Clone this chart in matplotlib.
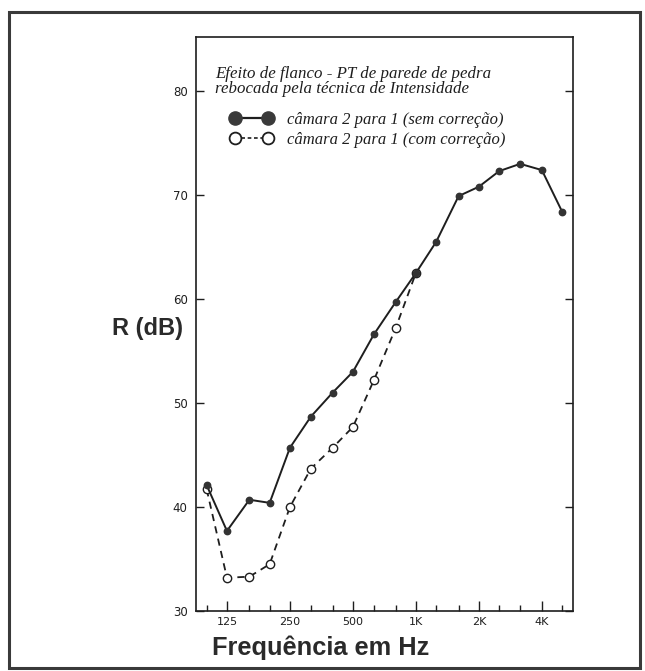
import matplotlib.pyplot as plt
from matplotlib.lines import Line2D
from matplotlib.patches import Rectangle
from matplotlib.ticker import FixedLocator, NullFormatter, NullLocator

# third-octave band centres (Hz)
freqs = [100, 125, 160, 200, 250, 315, 400, 500, 630, 800, 1000,
         1250, 1600, 2000, 2500, 3150, 4000, 5000]
# R (dB) without correction, all bands
r_sem = [42.1, 37.7, 40.7, 40.4, 45.7, 48.7, 51.0, 53.0, 56.6, 59.7, 62.5,
         65.5, 69.9, 70.8, 72.3, 73.0, 72.4, 68.4]
# R (dB) with correction, 100 Hz .. 1 kHz
freqs_com = [100, 125, 160, 200, 250, 315, 400, 500, 630, 800, 1000]
r_com = [41.7, 33.2, 33.3, 34.5, 40.0, 43.7, 45.7, 47.7, 52.2, 57.2, 62.5]

major_ticks = [125, 250, 500, 1000, 2000, 4000]
major_labels = ['125', '250', '500', '1K', '2K', '4K']
minor_ticks = [100, 160, 200, 315, 400, 630, 800, 1250, 1600, 2500, 3150, 5000]
y_ticks = [30, 40, 50, 60, 70, 80]

ink = '#1e1e1e'

fig = plt.figure(figsize=(6.45, 6.71), dpi=100)
ax = fig.add_axes([0.304, 0.0894, 0.584, 0.8555])

ax.plot(freqs_com, r_com, color=ink, lw=1.3, ls=(0, (4, 3)),
        marker='o', ms=6, mfc='white', mec=ink, mew=1.0, zorder=3)
ax.plot(freqs, r_sem, color=ink, lw=1.4, marker='o', ms=4.6,
        mfc='#333333', mec='#333333', zorder=4)

ax.set_xscale('log')
ax.set_xlim(89, 5620)
ax.set_ylim(30, 85.2)

ax.xaxis.set_major_locator(FixedLocator(major_ticks))
ax.xaxis.set_minor_locator(FixedLocator(minor_ticks))
ax.xaxis.set_minor_formatter(NullFormatter())
ax.set_xticklabels(major_labels, fontsize=8, family='Liberation Sans Narrow')
ax.set_yticks(y_ticks)
ax.set_yticklabels([str(v) for v in y_ticks], fontsize=8.5,
                   family='Liberation Sans Narrow')
ax.yaxis.set_minor_locator(NullLocator())
ax.tick_params(axis='x', which='major', direction='in', length=7, width=1,
               pad=4, colors=ink)
ax.tick_params(axis='x', which='minor', direction='in', length=4, width=1,
               colors=ink)
ax.tick_params(axis='y', which='major', direction='in', length=6, width=1,
               left=True, right=True, pad=6, colors=ink)
for side in ['left', 'right', 'bottom', 'top']:
    ax.spines[side].set_color(ink)
    ax.spines[side].set_linewidth(1.2)

ax.text(0.050, 0.950,
        'Efeito de flanco - PT de parede de pedra\n'
        'rebocada pela técnica de Intensidade',
        transform=ax.transAxes, ha='left', va='top', fontsize=12.2,
        style='italic', family='Liberation Serif', linespacing=0.98,
        color=ink)

handles = [
    Line2D([], [], color=ink, lw=1.6, marker='o', ms=9.5,
           mfc='#3a3a3a', mec='#3a3a3a'),
    Line2D([], [], color=ink, lw=1.2, ls=(0, (2.2, 1.6)), marker='o', ms=8.5,
           mfc='white', mec=ink, mew=1.3),
]
labels = ['câmara 2 para 1 (sem correção)', 'câmara 2 para 1 (com correção)']
leg = ax.legend(handles, labels, loc='upper left',
                bbox_to_anchor=(0.090, 0.870), frameon=False, numpoints=2,
                borderaxespad=0, borderpad=0,
                handlelength=2.6, handletextpad=0.85, labelspacing=0.28,
                prop={'family': 'Liberation Serif', 'style': 'italic',
                      'size': 12})
for txt in leg.get_texts():
    txt.set_color(ink)

fig.text(0.228, 0.511, 'R (dB)', ha='center', va='center', fontsize=17,
         fontweight='bold', family='Liberation Sans', color='#2a2a2a')
fig.text(0.497, 0.034, 'Frequência em Hz', ha='center', va='center',
         fontsize=18.3, fontweight='bold', family='Liberation Sans',
         color='#2a2a2a')

fig.patches.append(Rectangle((0.014, 0.005), 0.978, 0.977,
                             transform=fig.transFigure, fill=False,
                             ec='#3a3a3a', lw=2.2))

fig.savefig('out.png', dpi=100)
